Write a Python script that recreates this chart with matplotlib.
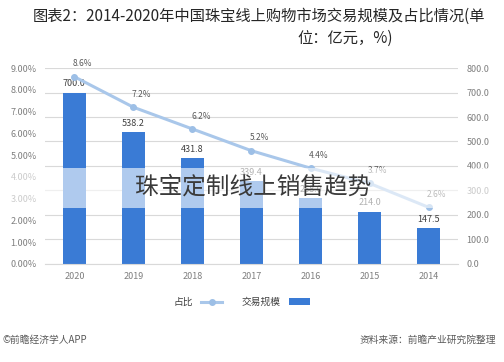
import matplotlib
matplotlib.use("Agg")
import matplotlib.pyplot as plt
from matplotlib.patches import Rectangle

plt.rcParams['font.family'] = ['Noto Sans CJK SC', 'DejaVu Sans']

# data (picture is mirrored: 2020 on the left)
years = ['2020', '2019', '2018', '2017', '2016', '2015', '2014']
scale = [700.0, 538.2, 431.8, 339.4, 268.0, 214.0, 147.5]   # 交易规模 (亿元)
share = [8.6, 7.2, 6.2, 5.2, 4.4, 3.7, 2.6]                 # 占比 (%)
value_ticks = [0, 100, 200, 300, 400, 500, 600, 700, 800]
pct_ticks = [0, 1, 2, 3, 4, 5, 6, 7, 8, 9]

bar_col = '#3a7bd5'
line_col = '#a9c7ea'
grey = '#595959'

fig = plt.figure(figsize=(5.04, 3.62), dpi=100)
ax = fig.add_axes([0.089, 0.271, 0.82, 0.541])
x = list(range(len(years)))

ax.bar(x, scale, width=0.38, color=bar_col, zorder=2)
for xi, v in zip(x, scale):
    ax.annotate(f'{v:.1f}', (xi, v), xytext=(0, 3), textcoords='offset points',
                ha='center', va='bottom', fontsize=6.5, color='#404040')

ax.set_xlim(-0.5, len(years) - 0.5)
ax.set_ylim(0, 800)
ax.set_xticks(x)
ax.set_xticklabels(years)
ax.grid(axis='y', color='#d9d9d9', linewidth=0.8, zorder=0)
for s in ['top', 'left', 'right']:
    ax.spines[s].set_visible(False)
ax.spines['bottom'].set_color('#d9d9d9')

ax2 = ax.twinx()
ax2.plot(x, share, color=line_col, linewidth=2.2, marker='o', markersize=4,
         markerfacecolor='#9dbfe6', markeredgecolor='#9dbfe6', zorder=3)
for xi, p in zip(x, share):
    ax2.annotate(f'{p:.1f}%', (xi, p), xytext=(6, 6), textcoords='offset points',
                 ha='center', va='bottom', fontsize=6, color='#595959')
ax2.set_ylim(0, 9)
ax2.set_yticks(pct_ticks)
ax2.set_yticklabels([f'{t:.2f}%' for t in pct_ticks])
ax2.yaxis.tick_left()
ax2.tick_params(axis='y', length=0, labelsize=6.5, labelcolor='#7f7f7f', pad=6)
for s in ax2.spines.values():
    s.set_visible(False)

# value axis on the right (after twinx, which moves it back)
ax.yaxis.tick_right()
ax.set_yticks(value_ticks)
ax.set_yticklabels([f'{t:.1f}' for t in value_ticks])
ax.tick_params(axis='both', length=0, labelsize=6.5, labelcolor='#7f7f7f', pad=6)

# legend (marker after text, as in the mirrored picture)
h_bar = ax.patches[0]
h_line = ax2.lines[0]
fig.legend([h_line, h_bar], ['占比', '交易规模'], loc='center', bbox_to_anchor=(0.48, 0.165),
           ncol=2, frameon=False, markerfirst=False, fontsize=7, handlelength=2.2,
           columnspacing=2.0, labelcolor='#404040')

# title
fig.text(0.962, 0.955, '图表2：2014-2020年中国珠宝线上购物市场交易规模及占比情况(单',
         ha='right', va='center', fontsize=11, fontweight='medium', color='#262626')
fig.text(0.59, 0.895, '位：亿元，%)', ha='left', va='center', fontsize=11,
         fontweight='medium', color='#262626')

# footer
fig.text(0.005, 0.06, '©前瞻经济学人APP', ha='left', va='center', fontsize=7, color=grey)
fig.text(0.985, 0.06, '资料来源：前瞻产业研究院整理', ha='right', va='center', fontsize=7, color=grey)

# overlay band with caption
fig.patches.append(Rectangle((0, 0.425), 1, 0.11, transform=fig.transFigure,
                             facecolor='white', alpha=0.6, edgecolor='none', zorder=5))
fig.text(0.502, 0.482, '珠宝定制线上销售趋势', ha='center', va='center', fontsize=17,
         color='#3a3a3a', zorder=6)

fig.savefig('out.png', dpi=100)
